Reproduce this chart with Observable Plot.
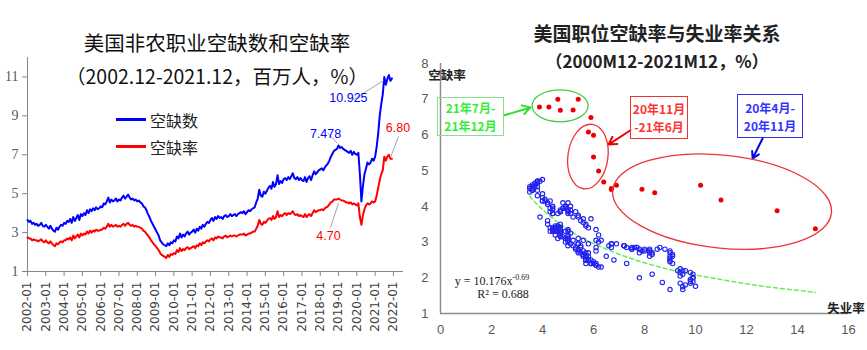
<!DOCTYPE html>
<html><head><meta charset="utf-8">
<script src="https://cdn.jsdelivr.net/npm/d3@7"></script>
<script src="https://cdn.jsdelivr.net/npm/@observablehq/plot@0.6"></script>
<style>
body{margin:0;background:#fff;}
#wrap{position:relative;width:867px;height:350px;overflow:hidden;font-family:"Noto Sans CJK SC",sans-serif;background:#fff;}
.abs{position:absolute;white-space:nowrap;}
.ttl{position:absolute;white-space:nowrap;transform:translateX(-50%);}
.box{position:absolute;box-sizing:border-box;}
.bl{position:absolute;white-space:nowrap;transform:translateX(-50%);font-size:12px;line-height:17px;font-weight:700;}
</style></head><body><div id="wrap"></div>
<script>
// ---------- Left panel data (monthly, 2002-01 .. 2021-12) ----------
const startYear = 2002;
const openings = [
3.65,3.55,3.6,3.45,3.5,3.4,3.45,3.35,3.4,3.5,3.35,3.3,
3.4,3.3,3.2,3.35,3.2,3.1,3.05,3.25,3.15,3.3,3.4,3.35,
3.5,3.45,3.6,3.55,3.7,3.5,3.8,3.6,3.75,3.9,3.65,3.95,
3.85,4.0,3.9,4.15,4.0,4.2,4.1,4.25,4.15,4.3,4.2,4.25,
4.35,4.3,4.5,4.45,4.6,4.8,4.55,4.7,4.6,4.65,4.75,4.6,
4.7,4.65,4.8,4.9,4.75,4.85,4.95,4.8,4.7,4.75,4.65,4.7,
4.6,4.65,4.55,4.5,4.35,4.3,4.15,3.95,3.8,3.6,3.45,3.3,
3.15,3.0,2.85,2.6,2.5,2.4,2.35,2.3,2.45,2.35,2.5,2.45,
2.6,2.55,2.8,2.7,2.95,2.75,2.9,2.8,2.95,3.05,2.9,3.0,
3.05,3.15,3.0,3.2,3.1,3.3,3.2,3.4,3.3,3.45,3.55,3.5,
3.65,3.75,3.6,3.8,3.7,3.85,3.75,3.8,3.7,3.85,3.9,3.8,
3.85,3.95,3.85,3.9,3.95,3.85,3.95,4.0,4.05,4.0,4.1,3.95,
4.05,4.15,4.1,4.2,4.25,4.3,4.55,4.75,5.2,4.9,4.85,5.1,
5.0,5.15,5.3,5.4,5.25,5.6,5.35,5.5,5.95,5.5,5.65,5.55,
5.75,5.8,5.7,5.85,5.75,5.9,6.05,5.8,5.75,5.85,5.7,5.8,
5.7,5.65,5.85,5.6,5.8,5.9,5.7,5.95,6.15,6.0,6.1,6.2,
6.25,6.3,6.2,6.35,6.45,6.55,6.7,6.9,7.05,7.2,7.25,7.3,
7.478,7.35,7.4,7.3,7.25,7.2,7.15,7.1,7.2,7.0,7.15,7.05,
7.0,7.1,6.0,4.6,5.4,6.0,6.3,6.6,6.5,6.6,6.8,6.7,
6.9,7.4,8.1,9.0,9.6,10.1,11.0,10.6,10.9,11.1,10.8,10.925];
const openingRate = [
2.75,2.7,2.7,2.6,2.65,2.6,2.6,2.55,2.6,2.65,2.55,2.5,
2.6,2.5,2.45,2.55,2.45,2.35,2.3,2.45,2.4,2.5,2.55,2.5,
2.6,2.6,2.7,2.65,2.75,2.6,2.85,2.7,2.8,2.9,2.75,2.95,
2.85,2.95,2.9,3.05,2.95,3.1,3.0,3.1,3.05,3.15,3.1,3.1,
3.15,3.15,3.25,3.2,3.3,3.45,3.3,3.4,3.3,3.35,3.4,3.3,
3.35,3.3,3.4,3.45,3.35,3.45,3.5,3.4,3.35,3.4,3.3,3.35,
3.3,3.3,3.25,3.2,3.1,3.05,2.95,2.85,2.75,2.6,2.5,2.4,
2.3,2.2,2.1,1.95,1.85,1.8,1.75,1.7,1.85,1.75,1.9,1.85,
1.95,1.9,2.1,2.0,2.2,2.05,2.15,2.1,2.2,2.25,2.15,2.2,
2.25,2.3,2.2,2.35,2.3,2.45,2.35,2.5,2.45,2.55,2.6,2.55,
2.65,2.7,2.6,2.75,2.7,2.8,2.75,2.75,2.7,2.8,2.85,2.75,
2.8,2.85,2.8,2.85,2.85,2.8,2.85,2.9,2.9,2.9,2.95,2.85,
2.9,2.95,2.95,3.0,3.05,3.05,3.2,3.35,3.65,3.45,3.4,3.55,
3.5,3.6,3.7,3.75,3.65,3.85,3.7,3.8,4.1,3.8,3.9,3.85,
3.95,4.0,3.9,4.0,3.95,4.0,4.1,3.95,3.9,3.95,3.85,3.9,
3.85,3.8,3.95,3.8,3.9,3.95,3.85,4.0,4.15,4.05,4.1,4.15,
4.15,4.2,4.15,4.25,4.3,4.35,4.45,4.55,4.6,4.7,4.7,4.7,
4.75,4.7,4.65,4.65,4.6,4.55,4.55,4.5,4.55,4.45,4.5,4.45,
4.4,4.5,3.8,3.4,3.9,4.2,4.4,4.5,4.45,4.5,4.6,4.55,
4.6,4.9,5.3,5.7,6.0,6.2,6.9,6.7,6.9,7.0,6.8,6.8];
const leftXTicks = [2002,2003,2004,2005,2006,2007,2008,2009,2010,2011,2012,2013,2014,2015,2016,2017,2018,2019,2020,2021,2022];
const leftYTicks = [1,3,5,7,9,11];
const seriesNames = ["空缺数","空缺率"];
const valueLabels = ["10.925","7.478","4.70","6.80"];

// ---------- Right panel data ----------
// 2000M12 - 2020M3 (blue circles)
const unempHist = [3.9,
4.2,4.2,4.3,4.4,4.3,4.5,4.6,4.9,5.0,5.3,5.5,5.7,
5.7,5.7,5.7,5.9,5.8,5.8,5.8,5.7,5.7,5.7,5.9,6.0,
5.8,5.9,5.9,6.0,6.1,6.3,6.2,6.1,6.1,6.0,5.8,5.7,
5.7,5.6,5.8,5.6,5.6,5.6,5.5,5.4,5.4,5.5,5.4,5.4,
5.3,5.4,5.2,5.2,5.1,5.0,5.0,4.9,5.0,5.0,5.0,4.9,
4.7,4.8,4.7,4.7,4.6,4.6,4.7,4.7,4.5,4.4,4.5,4.4,
4.6,4.5,4.4,4.5,4.4,4.6,4.7,4.6,4.7,4.7,4.7,5.0,
5.0,4.9,5.1,5.0,5.4,5.6,5.8,6.1,6.1,6.5,6.8,7.3,
7.8,8.3,8.7,9.0,9.4,9.5,9.5,9.6,9.8,10.0,9.9,9.9,
9.8,9.8,9.9,9.9,9.6,9.4,9.4,9.5,9.5,9.4,9.8,9.3,
9.1,9.0,9.0,9.1,9.0,9.1,9.0,9.0,9.0,8.8,8.6,8.5,
8.3,8.3,8.2,8.2,8.2,8.2,8.2,8.0,7.8,7.8,7.7,7.9,
8.0,7.7,7.5,7.6,7.5,7.5,7.3,7.2,7.2,7.2,6.9,6.7,
6.6,6.7,6.7,6.2,6.3,6.1,6.2,6.1,5.9,5.7,5.8,5.6,
5.7,5.5,5.4,5.4,5.6,5.3,5.2,5.1,5.0,5.0,5.1,5.0,
4.8,4.9,5.0,5.1,4.8,4.9,4.8,4.9,5.0,4.9,4.7,4.7,
4.7,4.6,4.4,4.4,4.4,4.3,4.3,4.4,4.3,4.2,4.2,4.1,
4.0,4.1,4.0,4.0,3.8,4.0,3.8,3.8,3.7,3.8,3.8,3.9,
4.0,3.8,3.8,3.7,3.6,3.6,3.7,3.6,3.5,3.6,3.6,3.6,
3.5,3.5,4.4];
const vacHist = [3.7,
3.6,3.5,3.4,3.3,3.3,3.2,3.1,3.0,2.9,2.8,2.7,2.6,
2.7,2.6,2.6,2.5,2.6,2.5,2.5,2.4,2.5,2.5,2.4,2.4,
2.5,2.4,2.4,2.4,2.35,2.3,2.3,2.4,2.35,2.45,2.5,2.5,
2.6,2.6,2.7,2.65,2.75,2.6,2.85,2.7,2.8,2.9,2.75,2.95,
2.85,2.95,2.9,3.05,2.95,3.1,3.0,3.1,3.05,3.15,3.1,3.1,
3.15,3.15,3.25,3.2,3.3,3.45,3.3,3.4,3.3,3.35,3.4,3.3,
3.35,3.3,3.4,3.45,3.35,3.45,3.5,3.4,3.35,3.4,3.3,3.35,
3.3,3.3,3.25,3.2,3.1,3.05,2.95,2.85,2.75,2.6,2.5,2.4,
2.0,2.1,1.87,1.67,1.85,1.67,1.75,1.8,1.85,1.76,1.9,2.0,
1.95,1.9,2.1,2.0,2.2,2.05,2.15,2.1,2.2,2.25,2.15,2.2,
2.4,2.5,2.45,2.6,2.55,2.65,2.6,2.75,2.7,2.8,2.85,2.8,
2.65,2.7,2.6,2.75,2.7,2.8,2.75,2.75,2.7,2.8,2.85,2.75,
2.8,2.85,2.8,2.85,2.85,2.8,2.85,2.9,2.9,2.9,2.95,2.85,
2.9,2.95,2.95,3.0,3.05,3.05,3.2,3.35,3.65,3.45,3.4,3.55,
3.5,3.6,3.7,3.75,3.65,3.85,3.7,3.8,4.1,3.8,3.9,3.85,
3.95,4.0,3.9,4.0,3.95,4.0,4.1,3.95,3.9,3.95,3.85,3.9,
3.85,3.8,3.95,3.8,3.9,3.95,3.85,4.0,4.15,4.05,4.1,4.15,
4.15,4.2,4.15,4.25,4.3,4.35,4.45,4.55,4.6,4.7,4.7,4.7,
4.75,4.7,4.65,4.65,4.6,4.55,4.55,4.5,4.55,4.45,4.5,4.45,
4.4,4.5,3.8];
// 2020M4 - 2021M12 (red dots)
const unempRecent = [14.7,13.2,11.0,10.2,8.4,7.9,6.9,6.7,6.7,6.4,6.2,6.0,6.0,5.8,5.9,5.4,5.2,4.7,4.6,4.25,3.88];
const vacRecent   = [3.37,3.88,4.18,4.59,4.38,4.48,4.59,4.47,4.5,4.68,4.99,5.38,5.99,6.08,6.49,7.0,6.7,6.69,7.0,6.78,6.78];
// power trend y = 10.176 x^-0.69, read at a few points
const trendU = [3.5,4,5,6,7,8,9,10,11,12,13,14,14.7];
const trendV = [4.29,3.91,3.35,2.96,2.66,2.42,2.23,2.08,1.95,1.83,1.73,1.65,1.59];
const rightXTicks = [0,2,4,6,8,10,12,14,16];
const rightYTicks = [1,2,3,4,5,6,7,8];

// ---------- build tables ----------
const leftData = openings.map((v, i) => ({t: startYear + i / 12, openings: v, rate: openingRate[i]}));
const hist = unempHist.map((u, i) => ({u, v: vacHist[i]}));
const recent = unempRecent.map((u, i) => ({u, v: vacRecent[i]}));
const trend = trendU.map((u, i) => ({u, v: trendV[i]}));

const wrap = document.getElementById("wrap");
function addDiv(html, css, cls = "abs") {
  const d = document.createElement("div");
  d.className = cls; d.innerHTML = html; d.style.cssText += css; wrap.appendChild(d); return d;
}

// ---------- Left chart ----------
const leftAnn = [
  {x: 2019.54, y: 9.94, text: valueLabels[0], fill: "#0000ff", anchor: "end"},
  {x: 2018.29, y: 8.09, text: valueLabels[1], fill: "#0000ff", anchor: "end"},
  {x: 2018.45, y: 2.85, text: valueLabels[2], fill: "#ff0000", anchor: "middle"},
  {x: 2022.25, y: 8.40, text: valueLabels[3], fill: "#ff0000", anchor: "middle"}
];
const leftLeaders = [
  {x1: 2019.82, y1: 9.84, x2: 2021.46, y2: 10.82},
  {x1: 2018.40, y1: 8.14, x2: 2018.94, y2: 7.58},
  {x1: 2018.56, y1: 3.26, x2: 2019.00, y2: 4.50},
  {x1: 2022.28, y1: 7.94, x2: 2021.84, y2: 6.86}
];
const left = Plot.plot({
  width: 430, height: 350,
  marginLeft: 27, marginRight: 27, marginTop: 57, marginBottom: 79,
  style: {background: "transparent", overflow: "visible"},
  x: {domain: [2002, 2022.55]},
  y: {domain: [1, 12]},
  marks: [
    Plot.axisY({ticks: leftYTicks, tickSize: 5, tickPadding: 4, fontSize: 14, fontFamily: "Liberation Serif",
      fill: "#595959", stroke: "#868686", label: null}),
    Plot.axisX({ticks: leftXTicks, tickSize: 5, tickPadding: 5, tickRotate: -90, tickFormat: d => d + "-01",
      fontSize: 12, fontFamily: "DejaVu Sans", fill: "#404040", stroke: "#868686", label: null}),
    Plot.ruleX([2002], {stroke: "#868686"}),
    Plot.ruleY([1], {stroke: "#868686"}),
    Plot.line(leftData, {x: "t", y: "openings", stroke: "#0000ff", strokeWidth: 2}),
    Plot.line(leftData, {x: "t", y: "rate", stroke: "#ff0000", strokeWidth: 2}),
    Plot.link(leftLeaders, {x1: "x1", y1: "y1", x2: "x2", y2: "y2", stroke: "#a6a6a6", strokeWidth: 1}),
    Plot.text(leftAnn, {x: "x", y: "y", text: "text", fill: "fill", textAnchor: "anchor",
      fontSize: 12.5, fontFamily: "Liberation Sans"})
  ]
});
const ldiv = addDiv("", "left:0;top:0;width:430px;height:350px;");
ldiv.appendChild(left);

// ---------- Right chart ----------
const arrows = [
  {x1: 2.51, y1: 6.55, x2: 3.53, y2: 6.77, c: "#33dd33"},
  {x1: 7.45, y1: 6.13, x2: 6.59, y2: 5.73, c: "#ee0000"},
  {x1: 12.63, y1: 5.90, x2: 12.24, y2: 5.34, c: "#0000ee"}
];
const axisTitles = [
  {x: 0.25, y: 7.66, text: "空缺率", anchor: "start"},
  {x: 15.9, y: 1.14, text: "失业率", anchor: "end"}
];
const right = Plot.plot({
  width: 467, height: 350,
  marginLeft: 40, marginRight: 19, marginTop: 63, marginBottom: 37,
  style: {background: "transparent", overflow: "visible"},
  x: {domain: [0, 16]},
  y: {domain: [1, 8]},
  marks: [
    Plot.axisY({ticks: rightYTicks, tickFormat: d => String(d), tickSize: 0, tickPadding: 12, fontSize: 13,
      fontFamily: "Liberation Sans", fill: "#595959", label: null}),
    Plot.axisX({ticks: rightXTicks, tickFormat: d => String(d), tickSize: 0, tickPadding: 11, fontSize: 13,
      fontFamily: "Liberation Sans", fill: "#595959", label: null}),
    Plot.ruleX([0], {stroke: "#8c8c8c", strokeWidth: 1.5}),
    Plot.ruleY([1], {stroke: "#8c8c8c", strokeWidth: 1.5}),
    Plot.line(trend, {x: "u", y: "v", curve: "natural", stroke: "#66ee55", strokeWidth: 1.5, strokeDasharray: "4,3"}),
    Plot.dot(hist, {x: "u", y: "v", r: 2.2, stroke: "#2323ee", strokeWidth: 1.1, fill: "none"}),
    Plot.dot(recent, {x: "u", y: "v", r: 2.5, fill: "#ee0000", stroke: "none"}),
    Plot.arrow(arrows, {x1: "x1", y1: "y1", x2: "x2", y2: "y2", stroke: "c", strokeWidth: 2, headLength: 7}),
    Plot.text(axisTitles, {x: "x", y: "y", text: "text", textAnchor: "anchor", fontSize: 12.5,
      fontWeight: 700, fontFamily: "Noto Sans CJK SC", fill: "#222"})
  ]
});
const rdiv = addDiv("", "left:400px;top:0;width:467px;height:350px;");
rdiv.appendChild(right);

// ellipses and equation (annotation shapes positioned with the plot's scales)
const xs = right.scale("x"), ys = right.scale("y");
const rsvg = d3.select(right);
const ellipses = [
  {u: 4.71, v: 6.80, rx: 28, ry: 16, rot: 0, c: "#44cc44"},
  {u: 5.80, v: 5.38, rx: 20, ry: 32.5, rot: 8, c: "#ee3333"},
  {u: 11.06, v: 4.12, rx: 110, ry: 46.5, rot: 6, c: "#ee3333"}
];
ellipses.forEach(e => {
  rsvg.append("ellipse").attr("rx", e.rx).attr("ry", e.ry)
    .attr("transform", `translate(${xs.apply(e.u)},${ys.apply(e.v)}) rotate(${e.rot})`)
    .attr("fill", "none").attr("stroke", e.c).attr("stroke-width", 1.3);
});
const eq = rsvg.append("text").attr("x", xs.apply(2.04)).attr("y", ys.apply(1.78))
  .attr("font-family", "Liberation Serif").attr("font-size", 12).attr("fill", "#222");
eq.append("tspan").text("y = 10.176x");
eq.append("tspan").attr("dy", -5).attr("font-size", 8).text("-0.69");
rsvg.append("text").attr("x", xs.apply(2.47)).attr("y", ys.apply(1.42))
  .attr("font-family", "Liberation Serif").attr("font-size", 12).attr("fill", "#222").text("R² = 0.688");

// ---------- titles, legend, boxes ----------
addDiv("美国非农职业空缺数和空缺率", "left:217px;top:29px;font-size:20.5px;line-height:26px;color:#111;", "ttl");
addDiv("（2002.12-2021.12，百万人，%）", "left:217px;top:63px;font-size:19.5px;line-height:26px;color:#111;", "ttl");
addDiv("美国职位空缺率与失业率关系", "left:657px;top:20px;font-size:19px;line-height:26px;font-weight:700;color:#222;", "ttl");
addDiv("（2000M12-2021M12，%）", "left:657px;top:48px;font-size:17px;line-height:26px;font-weight:700;color:#222;", "ttl");

addDiv("", "left:116px;top:118px;width:30px;height:3px;background:#0000ff;");
addDiv(seriesNames[0], "left:150px;top:108px;font-size:16px;line-height:24px;color:#222;");
addDiv("", "left:116px;top:145px;width:30px;height:3px;background:#ff0000;");
addDiv(seriesNames[1], "left:150px;top:135px;font-size:16px;line-height:24px;color:#222;");

const boxes = [
  {l: 437, t: 97, w: 67, h: 39, border: "#88e088", color: "#33ee33", lines: ["21年7月-", "21年12月"]},
  {l: 630, t: 96, w: 58, h: 43, border: "#ee3333", color: "#ff3333", lines: ["20年11月", "-21年6月"]},
  {l: 737, t: 94, w: 66, h: 44, border: "#3333ee", color: "#3333ff", lines: ["20年4月-", "20年11月"]}
];
boxes.forEach(b => {
  addDiv("", `left:${b.l}px;top:${b.t}px;width:${b.w}px;height:${b.h}px;border:1px solid ${b.border};`, "box");
  const mid = b.t + b.h / 2, cx = b.l + b.w / 2;
  addDiv(b.lines[0], `left:${cx}px;top:${mid - 17.5}px;color:${b.color};`, "bl");
  addDiv(b.lines[1], `left:${cx}px;top:${mid + 0.5}px;color:${b.color};`, "bl");
});
</script></body></html>
